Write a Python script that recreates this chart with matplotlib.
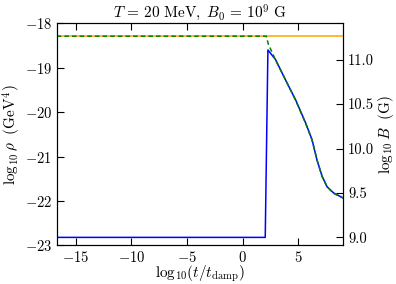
import matplotlib
matplotlib.use("Agg")
import matplotlib.pyplot as plt

plt.rcParams["font.family"] = "serif"
plt.rcParams["font.serif"] = ["cmr10"]
plt.rcParams["mathtext.fontset"] = "cm"
plt.rcParams["axes.formatter.use_mathtext"] = True
plt.rcParams["font.size"] = 10

# log10(t / t_damp)
t_orange = [-16.7, 9.1]
rho_orange = [-18.29, -18.29]

t_green = [-16.7, 2.11, 2.3, 2.95, 3.85, 4.74, 5.64, 6.22, 6.67, 7.12, 7.57, 8.16, 9.06]
rho_green = [-18.29, -18.29, -18.47, -18.83, -19.28, -19.73, -20.25, -20.63, -21.08,
             -21.45, -21.68, -21.83, -21.94]

t_blue = [-16.7, 2.02, 2.26, 2.95, 3.85, 4.74, 5.64, 6.22, 6.67, 7.12, 7.57, 8.16, 9.06]
logB_blue = [9.00, 9.00, 11.11, 11.00, 10.77, 10.55, 10.29, 10.10, 9.87, 9.69, 9.57,
             9.50, 9.44]

# log10 B = (log10 rho + offset) / 2
offset = 40.82
rho_lim = (-23, -18)
x_lim = (-16.67, 9.03)

fig = plt.figure(figsize=(3.96, 2.84), dpi=100)
ax = fig.add_axes([0.144, 0.136, 0.723, 0.782])
ax2 = ax.twinx()

ax2.plot(t_blue, logB_blue, color="blue", lw=1.1)
ax.plot(t_orange, rho_orange, color="orange", lw=1.1)
ax.plot(t_green, rho_green, color="green", lw=1.1, ls=(0, (3, 2)))

# left axis on top so the dashed line sits over the blue curve
ax.set_zorder(ax2.get_zorder() + 1)
ax.patch.set_visible(False)

ax.set_xlim(*x_lim)
ax.set_ylim(*rho_lim)
ax2.set_ylim((rho_lim[0] + offset) / 2, (rho_lim[1] + offset) / 2)

ax.set_xticks([-15, -10, -5, 0, 5])
ax.set_yticks([-23, -22, -21, -20, -19, -18])
ax2.set_yticks([9.0, 9.5, 10.0, 10.5, 11.0])
ax2.set_yticklabels(["9.0", "9.5", "10.0", "10.5", "11.0"])

ax.tick_params(direction="in", top=True, right=False, length=5, width=0.8,
               labelsize=10.5)
ax2.tick_params(direction="in", length=5, width=0.8, labelsize=10.5)

ax.set_xlabel(r"$\mathrm{log}_{10}(t/t_{\rm damp})$", fontsize=11, labelpad=-1)
ax.set_ylabel(r"$\log_{10}\rho\ \ (\mathrm{GeV}^4)$", fontsize=11, labelpad=1)
ax2.set_ylabel(r"$\log_{10}B\ \ (\mathrm{G})$", fontsize=11, labelpad=1)
ax.set_title(r"$T\,=\,20\ \mathrm{MeV},\ B_0\,=\,10^9\ \mathrm{G}$",
             fontsize=11, pad=2)

fig.savefig("out.png", dpi=100)
